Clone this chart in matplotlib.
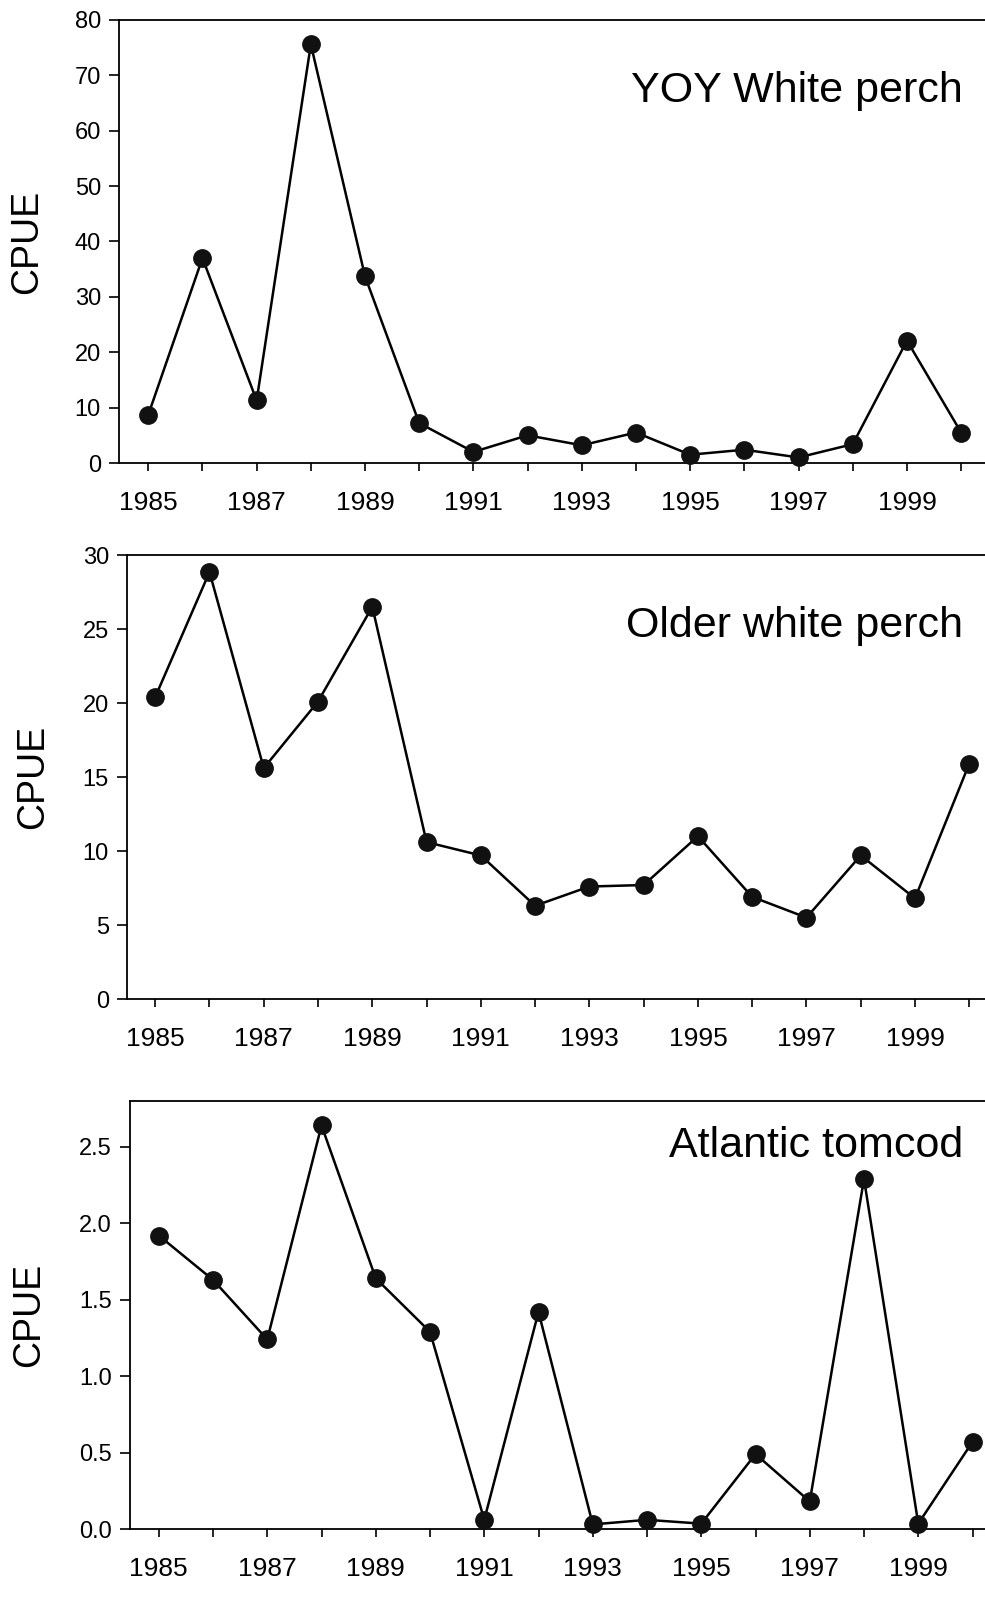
import matplotlib
matplotlib.use("Agg")
import matplotlib.pyplot as plt
from matplotlib.ticker import FormatStrFormatter

plt.rcParams['font.family'] = ['Liberation Sans', 'DejaVu Sans']

years = list(range(1985, 2001))
yoy_white_perch = [8.7, 37.0, 11.3, 75.6, 33.7, 7.2, 2.0, 5.0, 3.2, 5.5, 1.5, 2.4, 1.0, 3.4, 22.1, 5.5]
older_white_perch = [20.4, 28.85, 15.6, 20.1, 26.5, 10.6, 9.7, 6.3, 7.6, 7.7, 11.0, 6.9, 5.5, 9.7, 6.8, 15.9]
atlantic_tomcod = [1.92, 1.63, 1.24, 2.64, 1.64, 1.29, 0.06, 1.42, 0.03, 0.06, 0.035, 0.49, 0.18, 2.29, 0.035, 0.57]

titles = ["YOY White perch", "Older white perch", "Atlantic tomcod"]
series = [yoy_white_perch, older_white_perch, atlantic_tomcod]

W, H = 985, 1600
fig = plt.figure(figsize=(W / 100, H / 100), dpi=100)

panels = [
    dict(left=119, top=20, bottom=463, xlim=(1984.46, 2000.44), ylim=(0, 80),
         yticks=list(range(0, 81, 10)), fmt=None, ylab_x=27, title_y=102),
    dict(left=127, top=555, bottom=999, xlim=(1984.48, 2000.29), ylim=(0, 30),
         yticks=list(range(0, 31, 5)), fmt=None, ylab_x=33, title_y=637),
    dict(left=130, top=1101, bottom=1529, xlim=(1984.47, 2000.23), ylim=(0, 2.8),
         yticks=[0.0, 0.5, 1.0, 1.5, 2.0, 2.5], fmt="%.1f", ylab_x=29, title_y=1157),
]

for p, vals, title in zip(panels, series, titles):
    ax = fig.add_axes([p['left'] / W, 1 - p['bottom'] / H,
                       (W - p['left']) / W, (p['bottom'] - p['top']) / H])
    ax.plot(years, vals, color='black', linewidth=1.8, marker='o',
            markersize=12.5, markerfacecolor='#111111', markeredgecolor='#111111',
            clip_on=False, zorder=3)
    ax.set_xlim(*p['xlim'])
    ax.set_ylim(*p['ylim'])
    ax.set_xticks(years)
    ax.set_xticklabels([str(y) if (y - 1985) % 2 == 0 and y < 2000 else "" for y in years])
    ax.set_yticks(p['yticks'])
    if p['fmt']:
        ax.yaxis.set_major_formatter(FormatStrFormatter(p['fmt']))
    ax.spines['right'].set_visible(False)
    for s in ['left', 'bottom', 'top']:
        ax.spines[s].set_linewidth(1.3)
    ax.tick_params(axis='x', direction='out', length=6, width=1.2, labelsize=19, pad=14)
    ax.tick_params(axis='y', direction='out', length=7, width=1.2, labelsize=17, pad=6)
    ax.set_ylabel("CPUE", fontsize=27)
    ax.yaxis.label.set_va('center')
    ax.yaxis.set_label_coords((p['ylab_x'] - p['left']) / (W - p['left']), 0.5)
    fig.text(963 / W, 1 - p['title_y'] / H, title, fontsize=31,
             ha='right', va='baseline')

fig.savefig("out.png", dpi=100)
